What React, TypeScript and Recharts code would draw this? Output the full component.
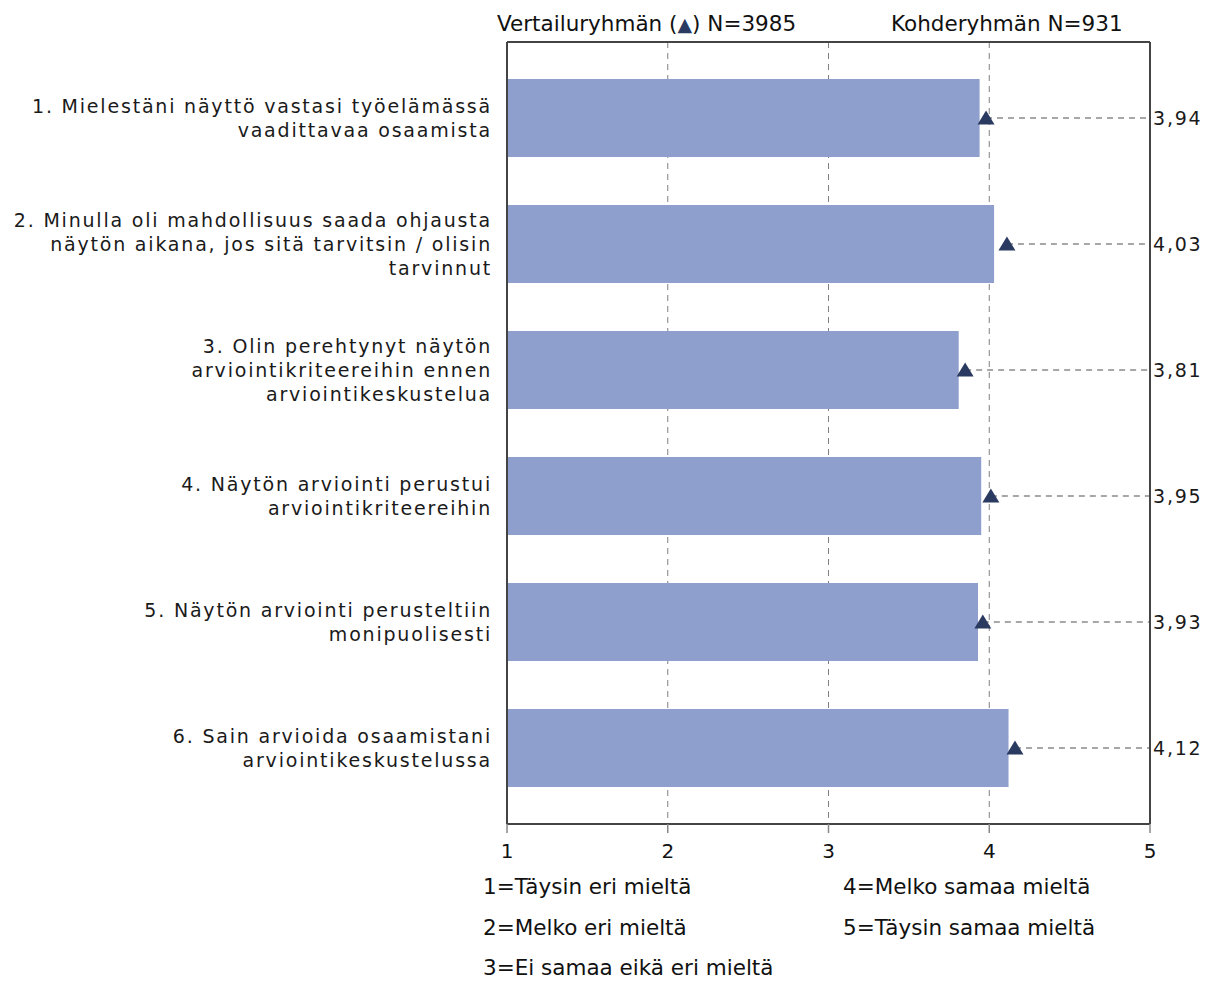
import React from "react";
import {
  ComposedChart,
  Bar,
  Line,
  ErrorBar,
  XAxis,
  YAxis,
  CartesianGrid,
} from "recharts";

const categories = [
  "1. Mielestäni näyttö vastasi työelämässä\nvaadittavaa osaamista",
  "2. Minulla oli mahdollisuus saada ohjausta\nnäytön aikana, jos sitä tarvitsin / olisin\ntarvinnut",
  "3. Olin perehtynyt näytön\narviointikriteereihin ennen\narviointikeskustelua",
  "4. Näytön arviointi perustui\narviointikriteereihin",
  "5. Näytön arviointi perusteltiin\nmonipuolisesti",
  "6. Sain arvioida osaamistani\narviointikeskustelussa",
];
const targetValues = [3.94, 4.03, 3.81, 3.95, 3.93, 4.12];
const referenceValues = [3.98, 4.11, 3.85, 4.01, 3.96, 4.16];
const xTicks = [1, 2, 3, 4, 5];
const scaleMax = 5;
const legendLeft = ["1=Täysin eri mieltä", "2=Melko eri mieltä", "3=Ei samaa eikä eri mieltä"];
const legendRight = ["4=Melko samaa mieltä", "5=Täysin samaa mieltä"];
const headerReference = ["Vertailuryhmän (", ") N=3985"];
const headerTarget = "Kohderyhmän N=931";

const data = categories.map((name, i) => ({
  name,
  value: targetValues[i],
  compare: referenceValues[i],
  compareErr: [0, scaleMax - referenceValues[i]],
}));

const BAR_COLOR = "#8E9FCE";
const MARK_COLOR = "#2B3A60";
const FRAME = "#444444";
const LABEL_FONT = "'DejaVu Sans', Verdana, sans-serif";

const fmt = (v: number) => v.toFixed(2).replace(".", ",");

const CategoryTick = (props: any) => {
  const { x, y, payload } = props;
  const lines = String(payload.value).split("\n");
  const lh = 24;
  const start = -((lines.length - 1) * lh) / 2;
  return (
    <text
      x={x}
      y={y}
      textAnchor="end"
      fill="#1a1a1a"
      style={{ fontFamily: LABEL_FONT, fontSize: 19, letterSpacing: 1.8 }}
    >
      {lines.map((ln, i) => (
        <tspan key={i} x={x} y={y + start + i * lh + 7}>
          {ln}
        </tspan>
      ))}
    </text>
  );
};

const ValueTick = (props: any) => {
  const { x, y, index } = props;
  return (
    <text
      x={x}
      y={y + 7}
      textAnchor="start"
      fill="#1a1a1a"
      style={{ fontFamily: LABEL_FONT, fontSize: 19, letterSpacing: 1.8 }}
    >
      {fmt(targetValues[index])}
    </text>
  );
};

const TriangleDot = (props: any) => {
  const { cx, cy, index } = props;
  if (cx == null || cy == null) return <g key={`t-${index}`} />;
  const d = `M${cx},${cy - 7.5} L${cx + 8.5},${cy + 6.5} L${cx - 8.5},${cy + 6.5} Z`;
  return <path key={`t-${index}`} d={d} fill={MARK_COLOR} stroke="none" />;
};

export default function App() {
  const textStyle: React.CSSProperties = {
    position: "absolute",
    fontFamily: LABEL_FONT,
    fontSize: 21.5,
    color: "#111",
    whiteSpace: "nowrap",
    lineHeight: "24px",
  };
  return (
    <div style={{ position: "relative", width: 1206, height: 973 }}>
      <ComposedChart
        layout="vertical"
        width={1206}
        height={960}
        data={data}
        margin={{ top: 32, right: 0, bottom: 0, left: 0 }}
      >
        <CartesianGrid
          xAxisId="bottom"
          yAxisId="left"
          horizontal={false}
          vertical={true}
          stroke="#808080"
          strokeDasharray="6 5"
        />
        <XAxis
          xAxisId="bottom"
          type="number"
          domain={[1, 5]}
          ticks={xTicks}
          allowDataOverflow
          orientation="bottom"
          height={144}
          axisLine={{ stroke: FRAME, strokeWidth: 2 }}
          tickLine={{ stroke: "#888", strokeWidth: 1.5 }}
          tickSize={9}
          tickMargin={11}
          tick={{ fill: "#111", fontSize: 20, fontFamily: LABEL_FONT }}
        />
        <XAxis
          xAxisId="top"
          type="number"
          domain={[1, 5]}
          allowDataOverflow
          orientation="top"
          height={2}
          axisLine={{ stroke: FRAME, strokeWidth: 2 }}
          tickLine={false}
          tick={false}
        />
        <YAxis
          yAxisId="left"
          type="category"
          dataKey="name"
          width={499}
          padding={{ top: 13, bottom: 13 }}
          axisLine={{ stroke: FRAME, strokeWidth: 2 }}
          tickLine={false}
          tickSize={0}
          tickMargin={15}
          tick={<CategoryTick />}
          interval={0}
        />
        <YAxis
          yAxisId="right"
          orientation="right"
          type="category"
          dataKey="name"
          width={64}
          padding={{ top: 13, bottom: 13 }}
          axisLine={{ stroke: FRAME, strokeWidth: 2 }}
          tickLine={false}
          tickSize={0}
          tickMargin={3}
          tick={<ValueTick />}
          interval={0}
        />
        <Bar
          xAxisId="bottom"
          yAxisId="left"
          dataKey="value"
          fill={BAR_COLOR}
          barSize={78}
          isAnimationActive={false}
        />
        <Line
          xAxisId="bottom"
          yAxisId="left"
          dataKey="compare"
          stroke="none"
          strokeWidth={0}
          dot={<TriangleDot />}
          activeDot={false}
          isAnimationActive={false}
        >
          <ErrorBar
            dataKey="compareErr"
            direction="x"
            width={0}
            stroke="#8a8a8a"
            strokeWidth={1.5}
            strokeDasharray="6 5"
          />
        </Line>
      </ComposedChart>
      <div style={{ ...textStyle, left: 489, top: 4 }}>
        {headerReference[0]}
        <span style={{ color: MARK_COLOR, fontSize: 19 }}>▲</span>
        {headerReference[1]}
      </div>
      <div style={{ ...textStyle, left: 883, top: 4 }}>{headerTarget}</div>
      {legendLeft.map((t, i) => (
        <div key={t} style={{ ...textStyle, left: 475, top: 867 + i * 40.5 }}>
          {t}
        </div>
      ))}
      {legendRight.map((t, i) => (
        <div key={t} style={{ ...textStyle, left: 835, top: 867 + i * 40.5 }}>
          {t}
        </div>
      ))}
    </div>
  );
}
